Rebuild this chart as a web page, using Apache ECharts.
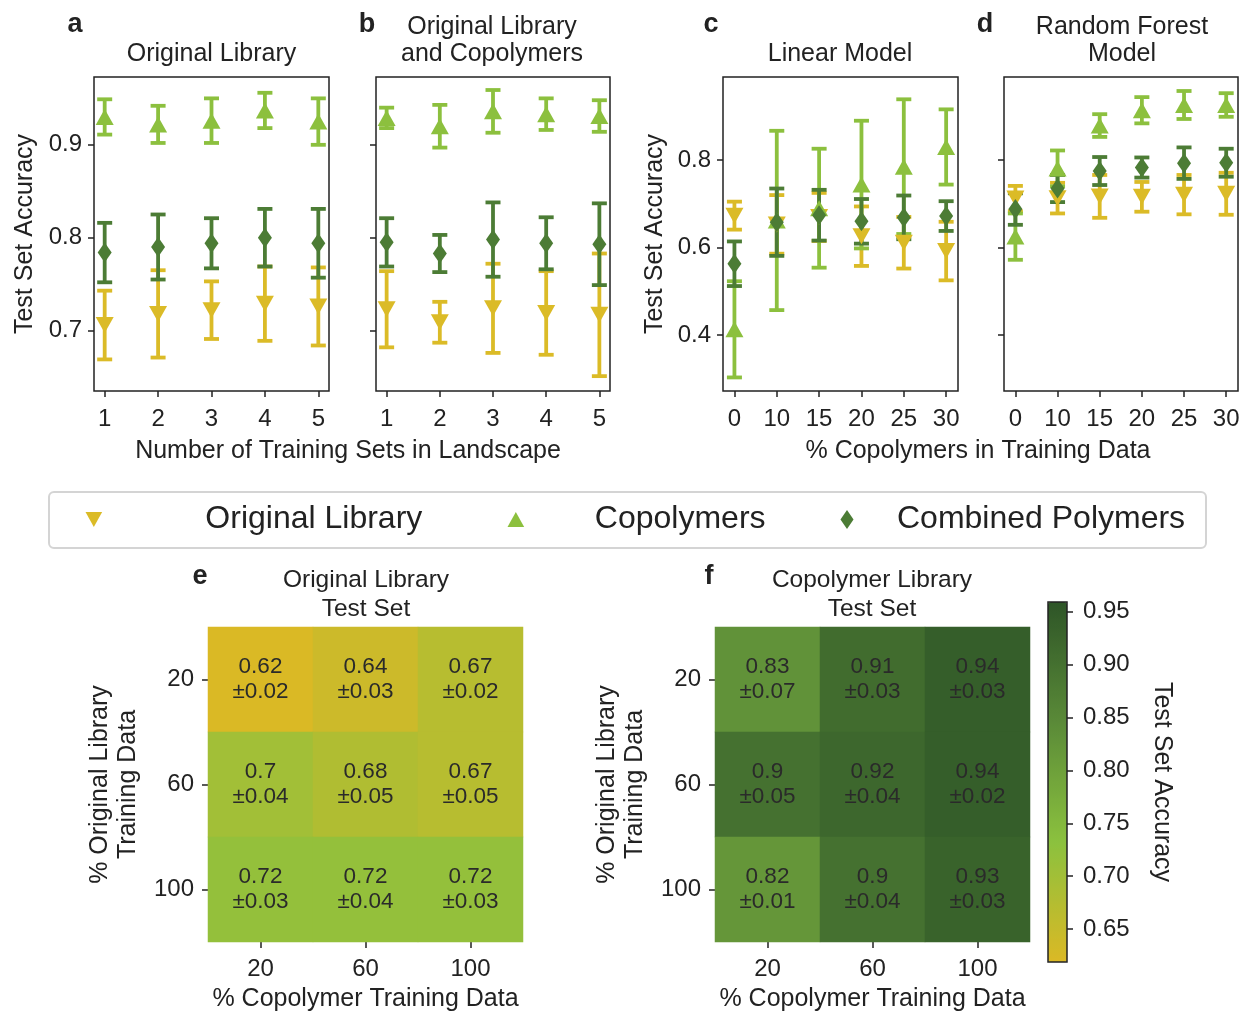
<!DOCTYPE html>
<html>
<head>
<meta charset="UTF-8">
<title></title>
<style>
  html, body { margin: 0; padding: 0; background: #fff; }
  #main { width: 1244px; height: 1013px; }
</style>
</head>
<body>
<div id="main"></div>
<script src="https://cdn.jsdelivr.net/npm/echarts@6/dist/echarts.min.js"></script>
<script>
// ---- data ----
var setsX = [1, 2, 3, 4, 5];
var pctX = [0, 1, 2, 3, 4, 5];
var pctLabels = ['0', '10', '15', '20', '25', '30'];

// panel a: Original Library landscape
var aOrig = [0.706, 0.718, 0.722, 0.729, 0.726];
var aOrigSd = [0.037, 0.047, 0.031, 0.040, 0.042];
var aCopo = [0.930, 0.922, 0.926, 0.937, 0.925];
var aCopoSd = [0.019, 0.020, 0.024, 0.019, 0.025];
var aComb = [0.784, 0.790, 0.794, 0.800, 0.794];
var aCombSd = [0.032, 0.035, 0.027, 0.031, 0.037];

// panel b: Original Library and Copolymers landscape
var bOrig = [0.723, 0.709, 0.724, 0.719, 0.717];
var bOrigSd = [0.041, 0.022, 0.048, 0.045, 0.066];
var bCopo = [0.929, 0.920, 0.936, 0.933, 0.931];
var bCopoSd = [0.011, 0.023, 0.023, 0.017, 0.017];
var bComb = [0.795, 0.783, 0.798, 0.794, 0.793];
var bCombSd = [0.026, 0.020, 0.040, 0.028, 0.044];

// panel c: linear model
var cOrig = [0.673, 0.653, 0.670, 0.626, 0.611, 0.592];
var cOrigSd = [0.032, 0.067, 0.055, 0.068, 0.059, 0.067];
var cCopo = [0.413, 0.662, 0.690, 0.744, 0.785, 0.830];
var cCopoSd = [0.110, 0.205, 0.136, 0.146, 0.154, 0.086];
var cComb = [0.563, 0.658, 0.674, 0.660, 0.669, 0.672];
var cCombSd = [0.051, 0.077, 0.058, 0.051, 0.050, 0.034];

// panel d: random forest model
var dOrig = [0.712, 0.713, 0.717, 0.716, 0.721, 0.723];
var dOrigSd = [0.029, 0.035, 0.049, 0.034, 0.045, 0.048];
var dCopo = [0.625, 0.781, 0.879, 0.914, 0.926, 0.926];
var dCopoSd = [0.053, 0.041, 0.026, 0.030, 0.032, 0.027];
var dComb = [0.688, 0.735, 0.775, 0.783, 0.793, 0.794];
var dCombSd = [0.036, 0.031, 0.032, 0.023, 0.036, 0.032];

// heatmaps (rows = % original library 20/60/100, cols = % copolymer 20/60/100)
var heatCats = ['20', '60', '100'];
var eMean = [[0.62, 0.64, 0.67], [0.70, 0.68, 0.67], [0.72, 0.72, 0.72]];
var eSd = [[0.02, 0.03, 0.02], [0.04, 0.05, 0.05], [0.03, 0.04, 0.03]];
var fMean = [[0.83, 0.91, 0.94], [0.90, 0.92, 0.94], [0.82, 0.90, 0.93]];
var fSd = [[0.07, 0.03, 0.03], [0.05, 0.04, 0.02], [0.01, 0.04, 0.03]];
var cbTicks = [0.65, 0.70, 0.75, 0.80, 0.85, 0.90, 0.95];

var names = ['Original Library', 'Copolymers', 'Combined Polymers'];
var colors = ['#dbbb27', '#8cc03e', '#4c7c35'];
var cmap = ['#dbb925', '#8bc13e', '#5a8a38', '#2e5527'];
var font = '"Liberation Sans", Arial, sans-serif';
var ink = '#222';

var chart = echarts.init(document.getElementById('main'));

function errBar(params, api) {
	var x = api.value(0);
	var lo = api.coord([x, api.value(1)]);
	var hi = api.coord([x, api.value(2)]);
	var c = 7.5;
	var st = { stroke: api.visual('color'), lineWidth: 3.8 };
	return {
		type: 'group',
		children: [
			{ type: 'line', shape: { x1: lo[0], y1: lo[1], x2: hi[0], y2: hi[1] }, style: st },
			{ type: 'line', shape: { x1: lo[0] - c, y1: lo[1], x2: lo[0] + c, y2: lo[1] }, style: st },
			{ type: 'line', shape: { x1: hi[0] - c, y1: hi[1], x2: hi[0] + c, y2: hi[1] }, style: st }
		]
	};
}

function panelSeries(g, xs, groups) {
	var out = [];
	var symbols = ['triangle', 'triangle', 'diamond'];
	var sizes = [[18, 16], [18, 16], [14, 20]];
	var rot = [180, 0, 0];
	groups.forEach(function (grp, k) {
		var m = grp[0], sd = grp[1];
		out.push({
			name: names[k], type: 'custom', xAxisIndex: g, yAxisIndex: g,
			renderItem: errBar, itemStyle: { color: colors[k] },
			encode: { x: 0, y: [1, 2] },
			data: xs.map(function (x, i) { return [x, m[i] - sd[i], m[i] + sd[i]]; })
		});
		out.push({
			name: names[k], type: 'scatter', xAxisIndex: g, yAxisIndex: g,
			symbol: symbols[k], symbolSize: sizes[k], symbolRotate: rot[k],
			itemStyle: { color: colors[k], opacity: 1 },
			emphasis: { disabled: true },
			data: xs.map(function (x, i) { return [x, m[i]]; })
		});
	});
	return out;
}

function heatData(mean, sd) {
	var d = [];
	for (var r = 0; r < mean.length; r++) {
		for (var c = 0; c < mean[r].length; c++) {
			d.push([c, r, mean[r][c], sd[r][c]]);
		}
	}
	return d;
}

var tickStyle = { show: true, length: 6, lineStyle: { color: ink, width: 1.5 } };
var lblStyle = { color: ink, fontSize: 24, fontFamily: font };
var noLine = { show: false, onZero: false };

function xAxisPlot(g, min, max, vals, labels) {
	return {
		gridIndex: g, type: 'value', min: min, max: max,
		splitLine: { show: false }, axisLine: noLine,
		axisTick: Object.assign({ customValues: vals }, tickStyle),
		axisLabel: Object.assign({
			customValues: vals, margin: 16,
			formatter: function (v) { return labels ? labels[Math.round(v)] : String(v); }
		}, lblStyle)
	};
}
function yAxisPlot(g, min, max, vals, showLabel, gap) {
	return {
		gridIndex: g, type: 'value', min: min, max: max,
		splitLine: { show: false }, axisLine: noLine,
		axisTick: Object.assign({ customValues: vals }, tickStyle),
		axisLabel: Object.assign({ show: showLabel, customValues: vals, margin: 12 }, lblStyle),
		name: showLabel ? 'Test Set Accuracy' : '',
		nameLocation: 'middle', nameRotate: 90, nameGap: gap || 56,
		nameTextStyle: { color: ink, fontSize: 25, fontFamily: font }
	};
}
function heatX(g) {
	return {
		gridIndex: g, type: 'category', data: heatCats,
		axisLine: noLine, splitLine: { show: false },
		axisTick: Object.assign({ alignWithLabel: true }, tickStyle),
		axisLabel: Object.assign({ margin: 15 }, lblStyle),
		name: '% Copolymer Training Data', nameLocation: 'middle', nameGap: 45,
		nameTextStyle: { color: ink, fontSize: 25, fontFamily: font }
	};
}
function heatY(g) {
	return {
		gridIndex: g, type: 'category', data: heatCats, inverse: true,
		axisLine: noLine, splitLine: { show: false },
		axisTick: Object.assign({ alignWithLabel: true }, tickStyle),
		axisLabel: Object.assign({ margin: 14 }, lblStyle),
		name: '% Original Library\nTraining Data', nameLocation: 'middle', nameRotate: 90, nameGap: 66,
		nameTextStyle: { color: ink, fontSize: 25, fontFamily: font, lineHeight: 28 }
	};
}

var frame = { show: true, borderColor: ink, borderWidth: 1.5, backgroundColor: 'transparent' };

var series = [].concat(
	panelSeries(0, setsX, [[aOrig, aOrigSd], [aCopo, aCopoSd], [aComb, aCombSd]]),
	panelSeries(1, setsX, [[bOrig, bOrigSd], [bCopo, bCopoSd], [bComb, bCombSd]]),
	panelSeries(2, pctX, [[cOrig, cOrigSd], [cCopo, cCopoSd], [cComb, cCombSd]]),
	panelSeries(3, pctX, [[dOrig, dOrigSd], [dCopo, dCopoSd], [dComb, dCombSd]])
);
var heatStart = series.length;
var heatLabel = {
	show: true, color: '#2a2a2a', fontSize: 22.5, fontFamily: font, lineHeight: 25,
	formatter: function (p) { return String(p.value[2]) + '\n\u00b1' + p.value[3].toFixed(2); }
};
series.push({
	name: 'heatE', type: 'heatmap', xAxisIndex: 4, yAxisIndex: 4,
	data: heatData(eMean, eSd), label: heatLabel, emphasis: { disabled: true }
});
series.push({
	name: 'heatF', type: 'heatmap', xAxisIndex: 5, yAxisIndex: 5,
	data: heatData(fMean, fSd), label: heatLabel, emphasis: { disabled: true }
});

function txt(x, y, s, size, bold, lh) {
	return {
		type: 'text', x: x, y: y,
		style: {
			text: s, fill: ink, fontSize: size, fontFamily: font,
			fontWeight: bold ? 'bold' : 'normal', align: 'center', verticalAlign: 'middle',
			lineHeight: lh || size + 3
		}
	};
}

function legendItem(i, left, w, h, pad) {
	var icons = ['path://M0,0L10,0L5,9Z', 'path://M5,0L10,9L0,9Z', 'diamond'];
	return {
		left: left, top: 501.5, padding: 0, itemWidth: w, itemHeight: h,
		data: [{ name: names[i], icon: icons[i] }],
		textStyle: { color: ink, fontSize: 32, fontFamily: font, lineHeight: 36, padding: [0, 0, 0, pad] }
	};
}

var option = {
	animation: false,
	backgroundColor: '#fff',
	grid: [
		Object.assign({ left: 94, top: 77, width: 235, height: 314 }, frame),
		Object.assign({ left: 376, top: 77, width: 234, height: 314 }, frame),
		Object.assign({ left: 723, top: 77, width: 235, height: 314 }, frame),
		Object.assign({ left: 1004, top: 77, width: 234, height: 314 }, frame),
		{ left: 208, top: 627, width: 315, height: 315 },
		{ left: 715, top: 627, width: 315, height: 315 },
		{ left: 1048, top: 602, width: 19, height: 360, show: true, borderColor: ink, borderWidth: 1.5, z: 10 }
	],
	xAxis: [
		xAxisPlot(0, 0.8, 5.2, setsX),
		xAxisPlot(1, 0.8, 5.2, setsX),
		xAxisPlot(2, -0.27, 5.28, pctX, pctLabels),
		xAxisPlot(3, -0.27, 5.28, pctX, pctLabels),
		heatX(4),
		heatX(5),
		{ gridIndex: 6, type: 'value', min: 0, max: 1, show: false }
	],
	yAxis: [
		yAxisPlot(0, 0.635, 0.973, [0.7, 0.8, 0.9], true, 56),
		yAxisPlot(1, 0.635, 0.973, [0.7, 0.8, 0.9], false),
		yAxisPlot(2, 0.272, 0.99, [0.4, 0.6, 0.8], true, 55),
		yAxisPlot(3, 0.272, 0.99, [0.4, 0.6, 0.8], false),
		heatY(4),
		heatY(5),
		{
			gridIndex: 6, type: 'value', position: 'right', min: 0.619, max: 0.959,
			splitLine: { show: false }, axisLine: noLine,
			axisTick: Object.assign({ customValues: cbTicks }, tickStyle),
			axisLabel: Object.assign({
				customValues: cbTicks, margin: 16,
				formatter: function (v) { return v.toFixed(2); }
			}, lblStyle),
			name: 'Test Set Accuracy', nameLocation: 'middle', nameRotate: -90, nameGap: 82,
			nameTextStyle: { color: ink, fontSize: 25, fontFamily: font }
		}
	],
	visualMap: {
		type: 'continuous', min: 0.619, max: 0.959, dimension: 2,
		seriesIndex: [heatStart, heatStart + 1],
		calculable: false, hoverLink: false, orient: 'vertical',
		left: 1048, top: 602, itemWidth: 19, itemHeight: 360, padding: 0,
		inRange: { color: cmap }
	},
	legend: [
		legendItem(0, 85.5, 17, 15, 98),
		legendItem(1, 507.5, 17, 15, 65.5),
		legendItem(2, 840.5, 13, 19, 38.5)
	],
	graphic: [
		{ type: 'rect', shape: { x: 49, y: 492, width: 1157, height: 56, r: 5 }, style: { fill: '#fff', stroke: '#d4d4d4', lineWidth: 2 } },
		txt(75, 25, 'a', 27, true),
		txt(367, 25, 'b', 27, true),
		txt(711, 25, 'c', 27, true),
		txt(985, 25, 'd', 27, true),
		txt(200, 577, 'e', 27, true),
		txt(709, 577, 'f', 27, true),
		txt(211.5, 54, 'Original Library', 25),
		txt(492, 40.5, 'Original Library\nand Copolymers', 25, false, 27),
		txt(840, 54, 'Linear Model', 25),
		txt(1122, 40.5, 'Random Forest\nModel', 25, false, 27),
		txt(366, 594.5, 'Original Library\nTest Set', 24.5, false, 29),
		txt(872, 594.5, 'Copolymer Library\nTest Set', 24.5, false, 29),
		txt(348, 451, 'Number of Training Sets in Landscape', 25),
		txt(978, 451, '% Copolymers in Training Data', 25)
	],
	series: series
};
chart.setOption(option);
window.addEventListener('resize', chart.resize);
</script>
</body>
</html>
